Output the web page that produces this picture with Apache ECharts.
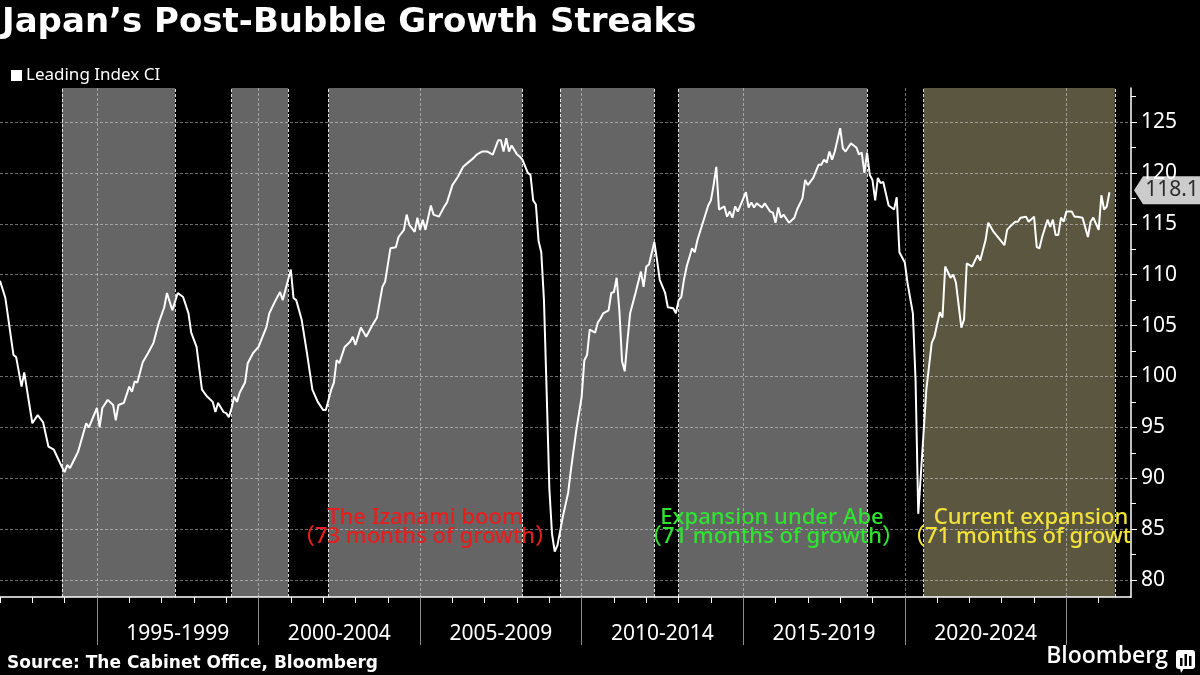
<!DOCTYPE html>
<html>
<head>
<meta charset="utf-8">
<title>Japan's Post-Bubble Growth Streaks</title>
<script src="https://cdn.jsdelivr.net/npm/echarts@6/dist/echarts.min.js"></script>
<style>
  html, body { margin: 0; padding: 0; background: #000; }
  #chart { width: 1200px; height: 675px; }
</style>
</head>
<body>
<div id="chart"></div>
<script>
// Leading Index CI
const months = [
  '1992-01','1992-03','1992-06','1992-07','1992-09','1992-10',
  '1993-01','1993-03','1993-05','1993-07','1993-09','1993-12',
  '1994-01','1994-02','1994-03','1994-06','1994-09','1994-10',
  '1995-01','1995-02','1995-03','1995-05','1995-07','1995-08','1995-09','1995-11',
  '1996-01','1996-02','1996-03','1996-04','1996-06','1996-08','1996-10','1996-12',
  '1997-02','1997-03','1997-05','1997-07','1997-09','1997-11','1997-12',
  '1998-02','1998-04','1998-06','1998-08','1998-09','1998-10','1998-12',
  '1999-01','1999-02','1999-03','1999-04','1999-05','1999-06','1999-08','1999-09','1999-11',
  '2000-01','2000-04','2000-05','2000-07','2000-09','2000-10','2000-12',
  '2001-01','2001-02','2001-03','2001-05','2001-07','2001-09','2001-11',
  '2002-01','2002-02','2002-04','2002-05','2002-06','2002-07','2002-09','2002-11','2002-12',
  '2003-01','2003-03','2003-05','2003-07','2003-09','2003-11','2003-12',
  '2004-02','2004-04','2004-05','2004-07','2004-08','2004-09','2004-11','2004-12',
  '2005-01','2005-02','2005-03','2005-05','2005-06','2005-08','2005-10','2005-11',
  '2006-01','2006-03','2006-05','2006-09','2006-10','2006-12',
  '2007-02','2007-04','2007-06','2007-07','2007-08','2007-09','2007-10','2007-11',
  '2008-01','2008-02','2008-03','2008-05','2008-06','2008-07','2008-08','2008-09','2008-10','2008-11','2008-12',
  '2009-01','2009-02','2009-03','2009-04','2009-06','2009-08','2009-09','2009-11',
  '2010-01','2010-02','2010-03','2010-04','2010-06','2010-07','2010-08','2010-09','2010-11','2010-12',
  '2011-01','2011-02','2011-03','2011-04','2011-05','2011-06','2011-07','2011-09','2011-11','2011-12',
  '2012-01','2012-02','2012-03','2012-04','2012-05','2012-06','2012-08','2012-09','2012-11','2012-12',
  '2013-01','2013-02','2013-03','2013-04','2013-06','2013-07','2013-08','2013-10','2013-12',
  '2014-01','2014-02','2014-03','2014-04','2014-06','2014-07','2014-08','2014-09','2014-10','2014-11',
  '2015-02','2015-03','2015-04','2015-05','2015-06','2015-08','2015-09','2015-11','2015-12',
  '2016-01','2016-02','2016-03','2016-04','2016-06','2016-08','2016-09','2016-11','2016-12',
  '2017-01','2017-03','2017-05','2017-06','2017-07','2017-08','2017-09','2017-10','2017-11',
  '2018-01','2018-02','2018-03','2018-05','2018-07','2018-08','2018-09','2018-10','2018-11','2018-12',
  '2019-01','2019-02','2019-03','2019-04','2019-05','2019-07','2019-08','2019-09','2019-10','2019-11',
  '2020-01','2020-02','2020-04','2020-05','2020-06','2020-07','2020-09','2020-11','2020-12',
  '2021-02','2021-03','2021-04','2021-06','2021-07','2021-08','2021-10','2021-11','2021-12',
  '2022-02','2022-04','2022-05','2022-07','2022-08','2022-10',
  '2023-02','2023-03','2023-04','2023-06','2023-07','2023-08','2023-10','2023-11',
  '2024-01','2024-02','2024-03','2024-04','2024-06','2024-07','2024-08','2024-09','2024-10','2024-11','2024-12',
  '2025-01','2025-03','2025-04','2025-05','2025-07','2025-09','2025-10','2025-11',
  '2026-01','2026-02','2026-03','2026-04','2026-05'
];

const leadingIndex = [
  109.4, 107.7, 102.1, 101.9, 99.0, 100.4,
  95.4, 96.2, 95.5, 93.1, 92.8, 91.1,
  90.6, 91.3, 91.0, 92.6, 95.4, 95.0,
  96.9, 95.0, 96.9, 97.7, 97.2, 95.7, 97.2, 97.4,
  99.0, 98.5, 99.5, 99.4, 101.4, 102.3, 103.3, 105.3,
  106.8, 108.2, 106.5, 108.2, 107.8, 106.2, 104.3,
  102.9, 98.7, 98.0, 97.5, 96.5, 97.4, 96.5,
  96.4, 96.0, 96.9, 98.0, 97.5, 98.4, 99.4, 101.3, 102.3,
  102.9, 104.9, 106.2, 107.3, 108.3, 107.5, 109.5,
  110.5, 107.7, 107.5, 105.6, 102.3, 98.7, 97.5,
  96.7, 96.7, 98.7, 99.4, 101.6, 101.3, 102.9, 103.4, 103.9,
  103.1, 104.8, 103.9, 104.9, 105.8, 108.8, 109.3,
  112.6, 112.7, 113.7, 114.4, 115.9, 114.9, 114.2, 115.6,
  114.4, 115.4, 114.4, 116.8, 115.9, 115.7, 116.7, 117.1,
  118.8, 119.6, 120.6, 121.5, 121.8, 122.1,
  122.1, 121.8, 123.2, 123.2, 122.1, 123.4, 122.1, 122.7,
  121.8, 121.6, 121.3, 120.0, 119.8, 117.3, 116.9, 113.3, 112.2, 107.5, 98.5,
  89.0, 84.5, 82.8, 83.4, 86.2, 88.6, 90.8, 94.7,
  98.0, 101.6, 102.1, 104.6, 104.3, 105.3, 105.7, 106.2, 106.5, 108.2,
  108.3, 109.7, 106.5, 101.5, 100.5, 103.5, 106.2, 108.2, 110.3, 108.8,
  110.8, 111.0, 112.1, 113.2, 111.4, 109.5, 108.2, 106.8, 106.7, 106.2,
  107.5, 107.8, 109.5, 110.8, 112.6, 112.2, 113.4, 115.1, 116.8,
  117.3, 118.8, 120.6, 116.4, 116.7, 115.7, 116.2, 115.6, 116.7, 116.2,
  118.1, 116.6, 117.1, 116.6, 117.0, 116.6, 117.0, 116.2, 116.1,
  115.1, 116.6, 115.6, 115.9, 115.1, 115.6, 116.4, 117.5, 119.3,
  118.8, 119.5, 120.8, 120.8, 121.3, 121.0, 122.1, 121.3, 122.1,
  124.4, 122.4, 122.1, 122.9, 122.5, 121.8, 122.0, 120.0, 122.0, 119.8,
  119.3, 117.3, 119.5, 119.0, 119.1, 116.8, 116.6, 116.4, 117.6, 112.2,
  111.2, 109.2, 106.2, 99.6, 86.5, 90.5, 98.7, 103.3, 103.9,
  106.3, 105.8, 110.8, 109.7, 110.0, 109.2, 104.8, 105.6, 111.1,
  110.8, 111.9, 111.4, 113.4, 115.1, 114.2,
  112.9, 114.4, 114.7, 115.2, 115.2, 115.6, 115.7, 115.2,
  115.7, 112.7, 112.6, 113.7, 115.4, 114.7, 115.4, 113.9, 113.9, 115.6, 115.2,
  116.2, 116.2, 115.7, 115.7, 115.6, 113.7, 115.2, 115.6,
  114.4, 117.8, 116.4, 116.7, 118.1
];

// shaded expansion periods
const expansionStart = ['1993-12', '1999-03', '2002-03', '2009-05', '2013-01', '2020-08'];
const expansionEnd   = ['1997-06', '2000-12', '2008-03', '2012-04', '2018-11', '2026-07'];
const expansionColor = ['#656565', '#656565', '#656565', '#656565', '#656565', '#5a5640'];

// axis ticks and labels
const yTicks = [80, 85, 90, 95, 100, 105, 110, 115, 120, 125];
const yMinorTicks = [82.5, 87.5, 92.5, 97.5, 102.5, 107.5, 112.5, 117.5, 122.5, 127.5];
const xMajorTicks = [1995, 2000, 2005, 2010, 2015, 2020, 2025];
const periodLabels = ['1995-1999', '2000-2004', '2005-2009', '2010-2014', '2015-2019', '2020-2024'];

const X_MIN = 1992, X_MAX = 2027;
const Y_MIN = 78.33, Y_MAX = 128.34;

const toYear = s => {
  const [y, m] = s.split('-').map(Number);
  return y + (m - 1) / 12;
};

const lineData = months.map((m, i) => [toYear(m), leadingIndex[i]]);
const yearTicks = [];
for (let y = X_MIN; y < X_MAX; y++) yearTicks.push(y);
const labelCenters = xMajorTicks.slice(0, periodLabels.length).map(v => v + 2.5);

const gridLine = { color: 'rgba(255,255,255,0.42)', width: 1, type: [3, 2] };
const font = "'Noto Sans', sans-serif";
const noteFont = "'Noto Sans', 'Noto Sans CJK JP', sans-serif";

const chart = echarts.init(document.getElementById('chart'));

const option = {
  backgroundColor: '#000',
  animation: false,
  textStyle: { fontFamily: font },
  grid: { left: 0, right: 69, top: 88, bottom: 78 },
  legend: {
    data: ['Leading Index CI'],
    left: 6,
    top: 62,
    icon: 'rect',
    itemWidth: 11,
    itemHeight: 11,
    itemGap: 10,
    textStyle: { color: '#fff', fontSize: 17, fontFamily: font, padding: [0, 0, 0, -1] },
  },
  xAxis: [
    {
      type: 'value', min: X_MIN, max: X_MAX, position: 'bottom', z: 2,
      axisLine: { show: true, onZero: false, lineStyle: { color: '#fff', width: 1.5 } },
      axisTick: { show: true, customValues: yearTicks, length: 6, lineStyle: { color: '#fff' } },
      axisLabel: { show: false },
      splitLine: { show: false },
    },
    {
      type: 'value', min: X_MIN, max: X_MAX, position: 'bottom', z: 2,
      axisLine: { show: false, onZero: false },
      axisTick: { show: true, customValues: xMajorTicks, length: 48, lineStyle: { color: '#8c8c8c' } },
      axisLabel: {
        show: true,
        customValues: labelCenters,
        formatter: v => periodLabels[labelCenters.indexOf(v)] || '',
        color: '#fff', fontSize: 21, margin: 27, fontFamily: font,
      },
      splitLine: { show: true, lineStyle: gridLine },
    },
  ],
  yAxis: [
    {
      type: 'value', min: Y_MIN, max: Y_MAX, position: 'right', z: 2,
      axisLine: { show: true, lineStyle: { color: '#fff', width: 1.5 } },
      axisTick: { show: true, customValues: yTicks, length: 6, lineStyle: { color: '#fff' } },
      axisLabel: { customValues: yTicks, color: '#fff', fontSize: 21, margin: 10, fontFamily: font },
      splitLine: { show: true, lineStyle: gridLine },
    },
    {
      type: 'value', min: Y_MIN, max: Y_MAX, position: 'right', z: 2,
      axisLine: { show: false },
      axisTick: { show: true, customValues: yMinorTicks, length: 5, lineStyle: { color: '#fff' } },
      axisLabel: { show: false },
      splitLine: { show: false },
    },
  ],
  series: [
    {
      // expansion shading
      name: 'expansions',
      type: 'line',
      data: [],
      silent: true,
      markArea: {
        silent: true,
        z: 1,
        data: expansionStart.map((s, i) => [
          { xAxis: toYear(s), itemStyle: { color: expansionColor[i] } },
          { xAxis: toYear(expansionEnd[i]) },
        ]),
      },
      markLine: {
        silent: true,
        z: 1,
        symbol: 'none',
        label: { show: false },
        lineStyle: { color: 'rgba(255,255,255,0.85)', width: 1, type: [3, 2] },
        data: expansionStart.concat(expansionEnd).map(s => ({ xAxis: toYear(s) })),
      },
    },
    {
      name: 'Leading Index CI',
      type: 'line',
      z: 3,
      data: lineData,
      showSymbol: false,
      color: '#fff',
      lineStyle: { color: '#fff', width: 2 },
    },
    {
      // last value tag on the axis
      name: 'last',
      type: 'scatter',
      z: 5,
      silent: true,
      clip: false,
      data: [[X_MAX, leadingIndex[leadingIndex.length - 1]]],
      symbol: 'path://M0,14L9,0L68,0L68,28L9,28Z',
      symbolSize: [68, 28],
      symbolOffset: [37, -2],
      itemStyle: { color: '#fff' },
      label: {
        show: true,
        position: 'inside',
        offset: [4, 0],
        formatter: p => p.value[1].toFixed(1),
        color: '#000',
        fontSize: 21,
        fontFamily: font,
      },
    },
  ],
  graphic: [
    {
      type: 'text', left: 2, top: 6,
      style: {
        text: 'Japan’s Post-Bubble Growth Streaks',
        fill: '#fff', font: "bold 34px 'DejaVu Sans'",
      },
    },
    {
      type: 'text', left: 7, top: 655,
      style: {
        text: 'Source: The Cabinet Office, Bloomberg',
        fill: '#fff', font: "bold 17px 'DejaVu Sans'",
      },
    },
    {
      type: 'text', right: 32, top: 645,
      style: { text: 'Bloomberg', fill: '#fff', font: "600 23px 'Open Sans'" },
    },
    {
      type: 'group', left: 1176, top: 650,
      children: [
        { type: 'rect', shape: { x: 0, y: 0, width: 19, height: 19, r: 3 }, style: { fill: '#fff' } },
        { type: 'polygon', shape: { points: [[4, 18], [8, 18], [5, 23]] }, style: { fill: '#fff' } },
        { type: 'rect', shape: { x: 4, y: 8, width: 2.5, height: 8 }, style: { fill: '#000' } },
        { type: 'rect', shape: { x: 8.5, y: 4, width: 2.5, height: 12 }, style: { fill: '#000' } },
        { type: 'rect', shape: { x: 13, y: 6, width: 2.5, height: 10 }, style: { fill: '#000' } },
      ],
    },
    // annotations
    { type: 'text', z: 10, style: { x: 425, y: 518, text: 'The Izanami boom', textAlign: 'center', textVerticalAlign: 'middle', fill: '#e61e1e', font: "500 22px " + noteFont } },
    { type: 'text', z: 10, style: { x: 425, y: 537, text: '（73 months of growth）', textAlign: 'center', textVerticalAlign: 'middle', fill: '#e61e1e', font: "500 22px " + noteFont } },
    { type: 'text', z: 10, style: { x: 772, y: 518, text: 'Expansion under Abe', textAlign: 'center', textVerticalAlign: 'middle', fill: '#2fe42f', font: "500 22px " + noteFont } },
    { type: 'text', z: 10, style: { x: 772, y: 537, text: '（71 months of growth）', textAlign: 'center', textVerticalAlign: 'middle', fill: '#2fe42f', font: "500 22px " + noteFont } },
    { type: 'text', z: 10, style: { x: 1031, y: 518, text: 'Current expansion', textAlign: 'center', textVerticalAlign: 'middle', fill: '#f2e23a', font: "500 22px " + noteFont } },
    { type: 'text', z: 10, style: { x: 903, y: 537, width: 238, overflow: 'truncate', ellipsis: '', text: '（71 months of growth）', textAlign: 'left', textVerticalAlign: 'middle', fill: '#f2e23a', font: "500 22px " + noteFont } },
  ],
};

chart.setOption(option);
</script>
</body>
</html>
